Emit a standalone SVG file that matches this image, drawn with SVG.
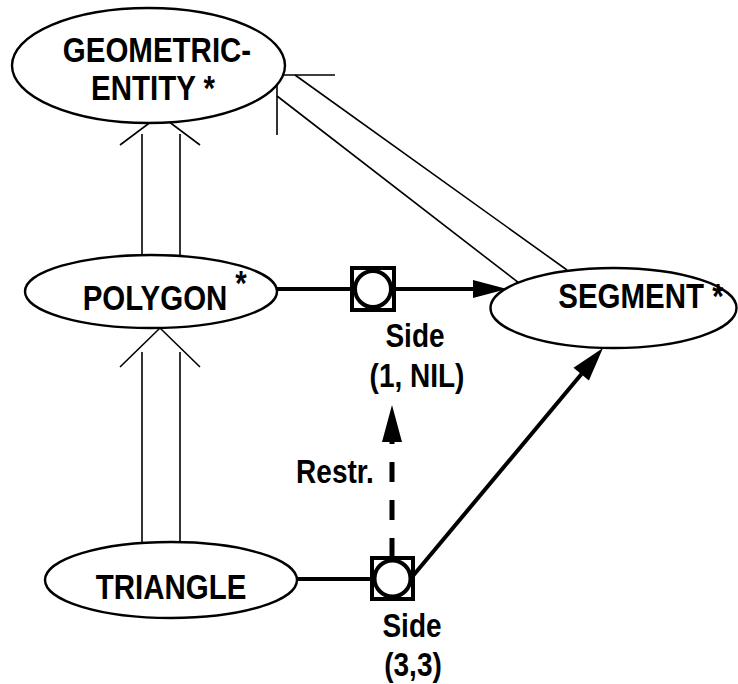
<svg xmlns="http://www.w3.org/2000/svg" width="738" height="684" viewBox="0 0 738 684">
<style>
.node{fill:#fff;stroke:#000;stroke-width:2.4}
.lbl{font-family:"Liberation Sans",Arial,sans-serif;font-weight:bold;font-size:29.5px;fill:#000;text-anchor:middle}
.elbl{font-family:"Liberation Sans",Arial,sans-serif;font-weight:bold;font-size:28px;fill:#000;text-anchor:middle}
.gen{fill:none;stroke:#000;stroke-width:1.6}
.rel{fill:none;stroke:#000;stroke-width:4}
.head{fill:#000;stroke:none}
.box{fill:#fff;stroke:#000;stroke-width:4}
</style>
<rect width="738" height="684" fill="#fff"/>
<g id="connectors">
  <polyline class="gen" points="120,145 160,115 200,145"/>
  <line class="gen" x1="142" y1="134" x2="142" y2="256"/>
  <line class="gen" x1="180" y1="134" x2="180" y2="256"/>
  <polyline class="gen" points="120,367 160,328 200,367"/>
  <line class="gen" x1="142" y1="352" x2="142" y2="543"/>
  <line class="gen" x1="180" y1="352" x2="180" y2="543"/>
  <polyline class="gen" points="335,75 277,75 277,135"/>
  <line class="gen" x1="295" y1="75" x2="567" y2="270"/>
  <line class="gen" x1="277" y1="96" x2="528" y2="290"/>
  <line class="rel" x1="277" y1="289" x2="352" y2="289"/>
  <line class="rel" x1="394" y1="289" x2="476" y2="289"/>
  <polygon class="head" points="473,280 507,289 473,298"/>
  <line class="rel" x1="297" y1="579" x2="372" y2="579"/>
  <line class="rel" x1="412" y1="577" x2="584" y2="371"/>
  <polygon class="head" points="603,348 588.9,380.5 573.5,367.7"/>
  <line x1="392" y1="558" x2="392" y2="442" stroke="#000" stroke-width="5" stroke-dasharray="20 18"/>
  <polygon class="head" points="392,405 382,442 402,442"/>
</g>
<g id="side1">
  <rect class="box" x="352" y="268" width="42" height="42"/>
  <circle class="box" cx="373" cy="289" r="18"/>
</g>
<g id="side2">
  <rect class="box" x="372" y="558" width="41" height="41"/>
  <circle class="box" cx="392.5" cy="578.5" r="18"/>
</g>
<g id="geometric-entity">
  <ellipse class="node" cx="148.5" cy="65.5" rx="136.5" ry="57.5"/>
  <text class="lbl" transform="translate(157,62) scale(1,1.18)">GEOMETRIC-</text>
  <text class="lbl" transform="translate(153,100) scale(1,1.18)">ENTITY *</text>
</g>
<g id="polygon">
  <ellipse class="node" cx="151" cy="291.5" rx="126" ry="36.5"/>
  <text class="lbl" transform="translate(155,310) scale(1,1.18)">POLYGON</text>
  <text class="lbl" transform="translate(241,295) scale(1,1.18)">*</text>
</g>
<g id="triangle">
  <ellipse class="node" cx="171" cy="580" rx="126" ry="38"/>
  <text class="lbl" transform="translate(171,599) scale(1,1.18)">TRIANGLE</text>
</g>
<g id="segment">
  <ellipse class="node" cx="613.5" cy="308" rx="123" ry="40"/>
  <text class="lbl" transform="translate(641,308) scale(1,1.18)">SEGMENT *</text>
</g>
<g id="labels">
  <text class="elbl" transform="translate(415,347) scale(1,1.18)">Side</text>
  <text class="elbl" transform="translate(417,387) scale(1,1.18)">(1, NIL)</text>
  <text class="elbl" transform="translate(335,483) scale(1,1.18)">Restr.</text>
  <text class="elbl" transform="translate(412,637) scale(1,1.18)">Side</text>
  <text class="elbl" transform="translate(413,676) scale(1,1.18)">(3,3)</text>
</g>
</svg>
